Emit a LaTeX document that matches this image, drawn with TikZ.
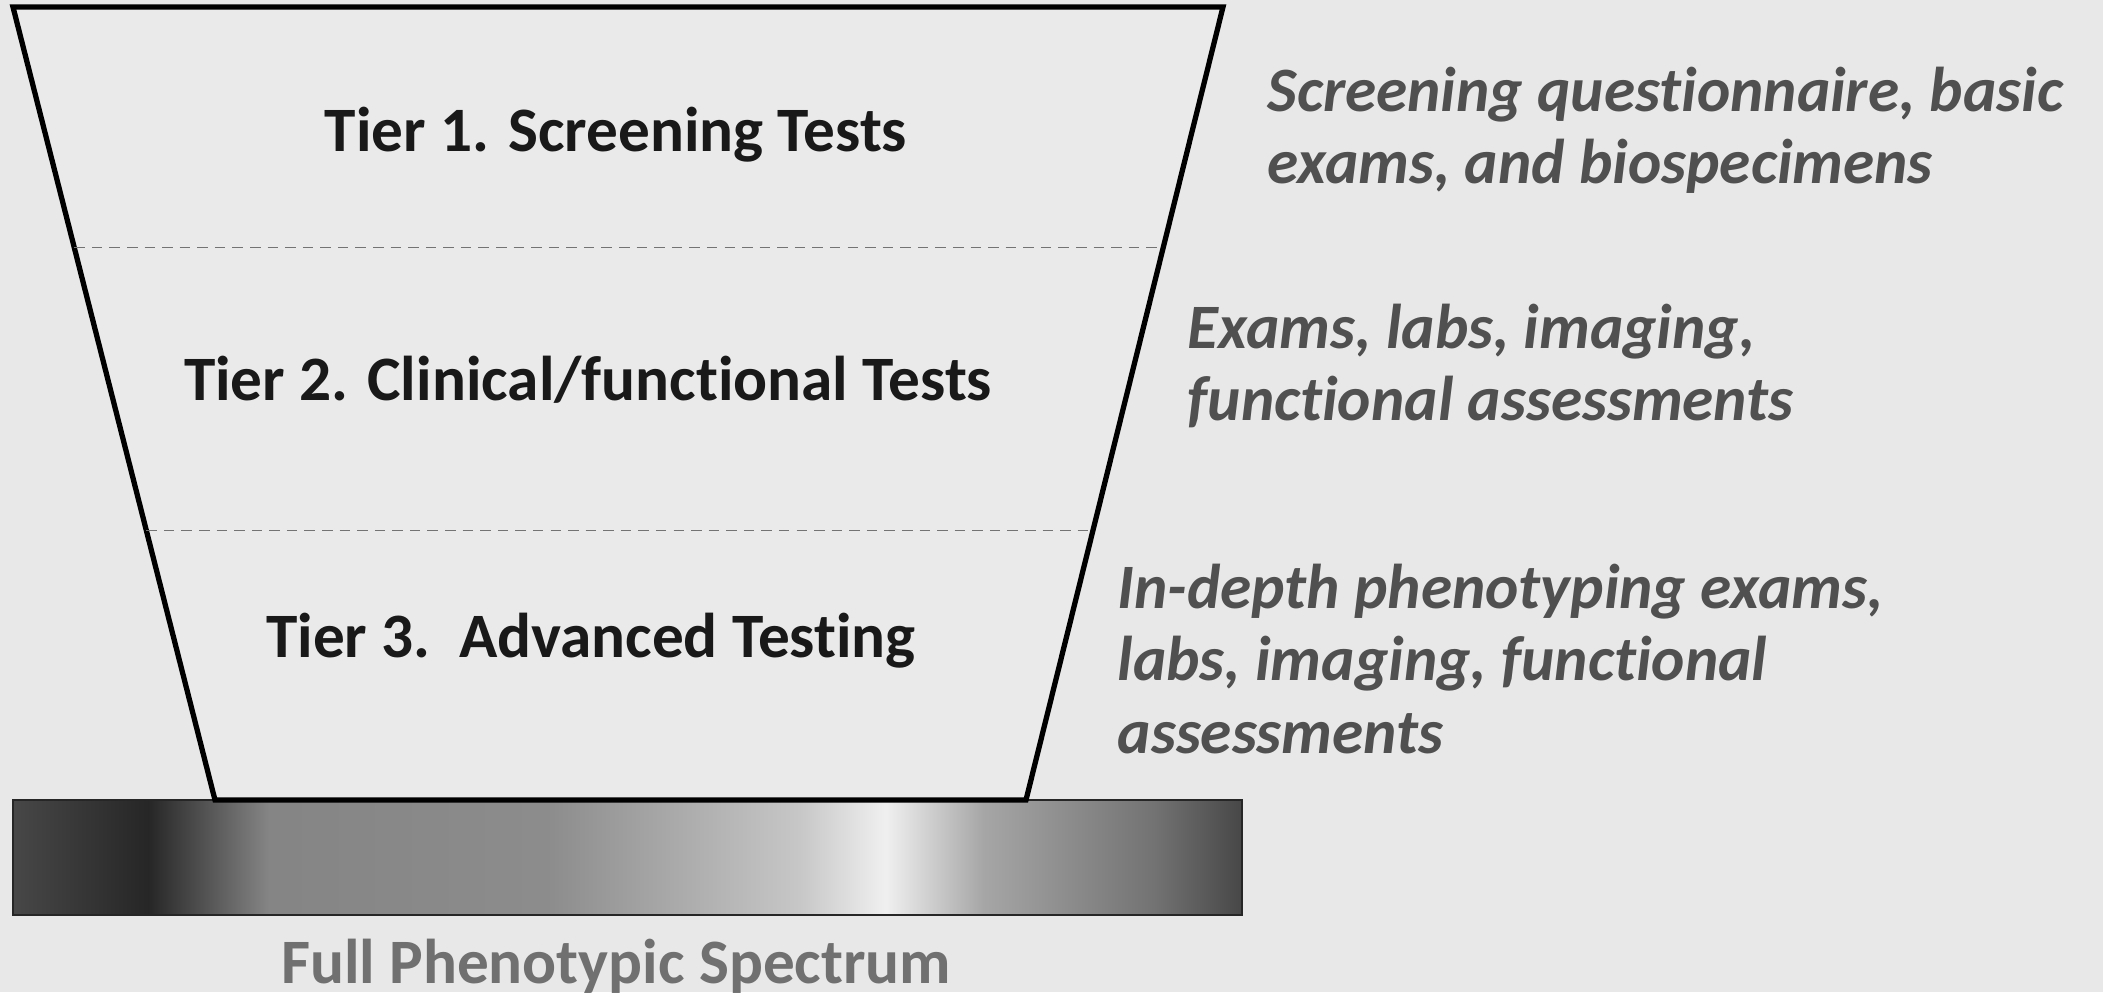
\documentclass[tikz,border=0pt]{standalone}
\usepackage{fontspec}
\setmainfont{Carlito}[Ligatures=NoCommon]
\usepackage{xcolor}
\usetikzlibrary{positioning,calc}
\definecolor{paper}{HTML}{E8E8E8}
\definecolor{funnelfill}{HTML}{EAEAEA}
\definecolor{notegray}{HTML}{505050}
\definecolor{spectext}{HTML}{707070}
% the grey spectrum under the funnel
\pgfdeclarehorizontalshading{spectrum}{100bp}{%
  color(0bp)=(black!72); color(25bp)=(black!72); color(30.5bp)=(black!85);
  color(35.4bp)=(black!48); color(46.8bp)=(black!45); color(57bp)=(black!22);
  color(60.5bp)=(black!6); color(64.5bp)=(black!35); color(71.4bp)=(black!55);
  color(75bp)=(black!72); color(100bp)=(black!72)}

\begin{document}
\begin{tikzpicture}[
    tierlabel/.style={font=\fontsize{18}{20.5}\selectfont\bfseries, text=black!90},
    tiernote/.style={font=\fontsize{18}{20.5}\selectfont\bfseries\itshape, text=notegray, align=left, anchor=west, inner xsep=0pt},
    tiersep/.style={densely dashed, black!55, line width=0.4pt}
  ]
    \fill[paper] (0,0) rectangle (21.03,9.92);
    \useasboundingbox (0,0) rectangle (21.03,9.92);

    % Spectrum bar
    \draw[black!85, line width=0.8pt, shading=spectrum] (0.13,0.77) rectangle (12.42,1.92);

    % Funnel
    \coordinate (tl) at (0.13,9.85);
    \coordinate (tr) at (12.23,9.85);
    \coordinate (bl) at (2.15,1.92);
    \coordinate (br) at (10.26,1.92);
    \draw[line width=1.5pt, fill=funnelfill] (tl) -- (tr) -- (br) -- (bl) -- cycle;

    % tier separators
    \draw[tiersep] ($(tl)!0.3035!(bl)$) -- ($(tr)!0.3035!(br)$);
    \draw[tiersep] ($(tl)!0.66!(bl)$) -- ($(tr)!0.66!(br)$);

    % Tier labels
    \node[tierlabel] (tier1) at (6.16,8.57) {Tier 1. Screening Tests};
    \node[tierlabel] (tier2) at (5.88,6.12) {Tier 2. Clinical/functional Tests};
    \node[tierlabel] (tier3) at (5.91,3.51) {Tier 3.\ \ Advanced Testing};

    % what each tier covers
    \node[tiernote] (note1) at (12.67,8.62) {Screening questionnaire, basic\\exams, and biospecimens};
    \node[tiernote] (note2) at (11.87,6.26) {Exams, labs, imaging,\\functional assessments};
    \node[tiernote] (note3) at (11.17,3.33) {In-depth phenotyping exams,\\labs, imaging, functional\\assessments};

    \node[font=\fontsize{18}{20.5}\selectfont\bfseries, text=spectext] (spectrum) at (6.16,0.26) {Full Phenotypic Spectrum};
\end{tikzpicture}
\end{document}
